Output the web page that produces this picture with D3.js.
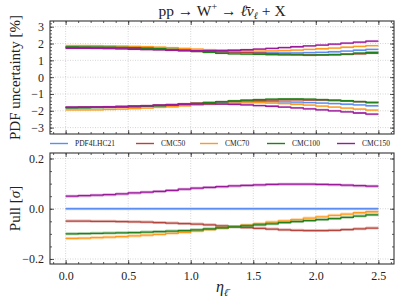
<!DOCTYPE html>
<html>
<head>
<meta charset="utf-8">
<script src="https://cdn.jsdelivr.net/npm/d3@7/dist/d3.min.js"></script>
<style>
  body { margin: 0; background: #fff; }
  text { font-family: "Liberation Serif", "DejaVu Serif", serif; fill: #222; }
</style>
</head>
<body>
<svg id="chart" width="399" height="299"></svg>
<script>
// bin edges in eta (25 bins)
const etaEdges = [0.0,0.1,0.2,0.3,0.4,0.5,0.6,0.7,0.8,0.9,1.0,1.1,1.2,1.3,1.4,1.5,1.6,1.7,1.8,1.9,2.0,2.1,2.2,2.3,2.4,2.5];

const seriesNames = ["PDF4LHC21", "CMC50", "CMC70", "CMC100", "CMC150"];
const seriesColors = ["#5c8ef2", "#b5453c", "#ff9a1f", "#22801c", "#9a1a9a"];

// PDF uncertainty [%], upper side
const upPDF4LHC21 = [1.78,1.78,1.77,1.76,1.75,1.73,1.71,1.68,1.64,1.60,1.56,1.53,1.51,1.49,1.47,1.46,1.45,1.45,1.45,1.46,1.48,1.51,1.55,1.60,1.65];
const upCMC50     = [1.77,1.77,1.76,1.75,1.74,1.72,1.70,1.67,1.63,1.58,1.53,1.51,1.50,1.49,1.47,1.43,1.40,1.37,1.35,1.33,1.33,1.34,1.36,1.39,1.42];
const upCMC70     = [1.88,1.88,1.87,1.86,1.85,1.83,1.81,1.78,1.75,1.71,1.67,1.63,1.60,1.57,1.55,1.55,1.56,1.58,1.61,1.65,1.69,1.73,1.78,1.83,1.87];
const upCMC100    = [1.80,1.79,1.79,1.78,1.77,1.75,1.72,1.69,1.65,1.60,1.53,1.47,1.42,1.39,1.37,1.36,1.34,1.33,1.32,1.31,1.32,1.34,1.37,1.43,1.48];
const upCMC150    = [1.72,1.72,1.71,1.70,1.68,1.66,1.64,1.62,1.60,1.58,1.57,1.57,1.58,1.60,1.63,1.67,1.71,1.76,1.81,1.86,1.91,1.96,2.02,2.08,2.14];

// PDF uncertainty [%], lower side
const dnPDF4LHC21 = [-1.80,-1.79,-1.78,-1.77,-1.76,-1.74,-1.71,-1.68,-1.64,-1.60,-1.56,-1.53,-1.50,-1.48,-1.47,-1.46,-1.46,-1.47,-1.49,-1.51,-1.54,-1.57,-1.61,-1.65,-1.70];
const dnCMC50     = [-1.80,-1.79,-1.78,-1.77,-1.75,-1.73,-1.70,-1.67,-1.63,-1.58,-1.54,-1.50,-1.46,-1.43,-1.40,-1.38,-1.36,-1.35,-1.35,-1.36,-1.37,-1.39,-1.42,-1.46,-1.50];
const dnCMC70     = [-1.95,-1.95,-1.94,-1.92,-1.90,-1.87,-1.84,-1.80,-1.76,-1.71,-1.66,-1.62,-1.58,-1.55,-1.53,-1.52,-1.54,-1.57,-1.61,-1.66,-1.72,-1.78,-1.84,-1.90,-1.96];
const dnCMC100    = [-1.83,-1.82,-1.81,-1.80,-1.78,-1.76,-1.73,-1.70,-1.66,-1.62,-1.57,-1.52,-1.46,-1.41,-1.36,-1.33,-1.31,-1.30,-1.30,-1.31,-1.33,-1.36,-1.40,-1.45,-1.51];
const dnCMC150    = [-1.79,-1.78,-1.77,-1.76,-1.74,-1.72,-1.70,-1.67,-1.64,-1.62,-1.60,-1.59,-1.60,-1.62,-1.65,-1.69,-1.73,-1.78,-1.83,-1.88,-1.94,-2.00,-2.06,-2.13,-2.20];

// pull [sigma]
const pullPDF4LHC21 = [0,0,0,0,0,0,0,0,0,0,0,0,0,0,0,0,0,0,0,0,0,0,0,0,0];
const pullCMC50     = [-0.049,-0.049,-0.050,-0.050,-0.051,-0.052,-0.053,-0.055,-0.057,-0.059,-0.061,-0.064,-0.068,-0.072,-0.075,-0.078,-0.081,-0.084,-0.086,-0.087,-0.087,-0.086,-0.083,-0.080,-0.077];
const pullCMC70     = [-0.118,-0.117,-0.115,-0.113,-0.111,-0.108,-0.105,-0.102,-0.098,-0.094,-0.089,-0.083,-0.077,-0.071,-0.065,-0.059,-0.053,-0.048,-0.043,-0.037,-0.032,-0.026,-0.021,-0.016,-0.012];
const pullCMC100    = [-0.100,-0.099,-0.098,-0.097,-0.096,-0.095,-0.093,-0.091,-0.089,-0.087,-0.084,-0.080,-0.076,-0.072,-0.068,-0.064,-0.060,-0.055,-0.051,-0.047,-0.043,-0.039,-0.034,-0.029,-0.024];
const pullCMC150    = [0.050,0.052,0.054,0.056,0.059,0.063,0.066,0.069,0.073,0.078,0.082,0.085,0.088,0.091,0.093,0.095,0.097,0.098,0.098,0.098,0.097,0.096,0.094,0.092,0.090];

const xTicks = [0.0, 0.5, 1.0, 1.5, 2.0, 2.5];
const yTicksTop = [-3, -2, -1, 0, 1, 2, 3];
const yTicksBot = [-0.2, 0.0, 0.2];

const upper = [upPDF4LHC21, upCMC50, upCMC70, upCMC100, upCMC150];
const lower = [dnPDF4LHC21, dnCMC50, dnCMC70, dnCMC100, dnCMC150];
const pulls = [pullPDF4LHC21, pullCMC50, pullCMC70, pullCMC100, pullCMC150];

const svg = d3.select("#chart");
const left = 50, right = 394;

const x = d3.scaleLinear().domain([-0.125, 2.625]).range([left, right]);
const yTop = d3.scaleLinear().domain([-3.38, 3.34]).range([134, 21]);
const yBot = d3.scaleLinear().domain([-0.22, 0.222]).range([264, 153]);

// 階段状のデータ点を作る
function stepPoints(vals) {
    return etaEdges.map((e, i) => [e, vals[Math.min(i, vals.length - 1)]]);
}

function drawPanel(y, yTicks, yMinorStep, yFmt, showX, seriesList, bandW) {
    const [y0, y1] = y.range();
    const g = svg.append("g");

    // grid
    g.selectAll(".gx").data(xTicks).join("line")
        .attr("x1", d => x(d)).attr("x2", d => x(d))
        .attr("y1", y1).attr("y2", y0)
        .attr("stroke", "#b8b8b8").attr("stroke-width", 0.6)
        .attr("stroke-dasharray", "1,1.5");
    g.selectAll(".gy").data(yTicks).join("line")
        .attr("x1", left).attr("x2", right)
        .attr("y1", d => y(d)).attr("y2", d => y(d))
        .attr("stroke", "#b8b8b8").attr("stroke-width", 0.6)
        .attr("stroke-dasharray", "1,1.5");

    const line = d3.line().x(d => x(d[0])).y(d => y(d[1])).curve(d3.curveStepAfter);
    const area = d3.area().x(d => x(d[0]))
        .y0(d => y(d[1] - bandW)).y1(d => y(d[1] + bandW))
        .curve(d3.curveStepAfter);

    seriesList.forEach(vals => {
        vals.forEach((v, i) => {
            const pts = stepPoints(v);
            g.append("path").attr("d", area(pts))
                .attr("fill", seriesColors[i]).attr("fill-opacity", 0.35);
            g.append("path").attr("d", line(pts))
                .attr("fill", "none").attr("stroke", seriesColors[i])
                .attr("stroke-width", 1.3);
        });
    });

    // minor ticks
    const [dmin, dmax] = y.domain();
    const yMinor = d3.range(Math.ceil(dmin / yMinorStep) * yMinorStep, dmax, yMinorStep);
    const xMinor = d3.range(-0.1, 2.65, 0.1);

    const tickAxis = (axis, tr, values, size) => g.append("g")
        .attr("transform", tr)
        .call(axis.tickValues(values).tickSize(size).tickFormat(""))
        .call(a => a.select(".domain").remove())
        .call(a => a.selectAll("line").attr("stroke", "#333").attr("stroke-width", 0.8));

    tickAxis(d3.axisLeft(y), `translate(${left},0)`, yMinor, -2);
    tickAxis(d3.axisRight(y), `translate(${right},0)`, yMinor, -2);
    tickAxis(d3.axisTop(x), `translate(0,${y1})`, xMinor, -2);
    tickAxis(d3.axisBottom(x), `translate(0,${y0})`, xMinor, -2);
    tickAxis(d3.axisRight(y), `translate(${right},0)`, yTicks, -4);
    tickAxis(d3.axisTop(x), `translate(0,${y1})`, xTicks, -4);

    // left axis with labels
    g.append("g").attr("transform", `translate(${left},0)`)
        .call(d3.axisLeft(y).tickValues(yTicks).tickSize(-4).tickPadding(6).tickFormat(yFmt))
        .call(a => a.select(".domain").remove())
        .call(a => a.selectAll("line").attr("stroke", "#333").attr("stroke-width", 0.8))
        .call(a => a.selectAll("text").attr("font-size", 12).attr("font-family", "Liberation Serif"));

    g.append("g").attr("transform", `translate(0,${y0})`)
        .call(d3.axisBottom(x).tickValues(xTicks).tickSize(-4).tickPadding(7)
            .tickFormat(showX ? d3.format(".1f") : ""))
        .call(a => a.select(".domain").remove())
        .call(a => a.selectAll("line").attr("stroke", "#333").attr("stroke-width", 0.8))
        .call(a => a.selectAll("text").attr("font-size", 12).attr("font-family", "Liberation Serif"));

    // frame
    g.append("rect").attr("x", left).attr("y", y1)
        .attr("width", right - left).attr("height", y0 - y1)
        .attr("fill", "none").attr("stroke", "#333").attr("stroke-width", 1.1);
}

drawPanel(yTop, yTicksTop, 0.2, d3.format("d"), false, [upper, lower], 0.06);
drawPanel(yBot, yTicksBot, 0.05, d3.format(".1f"), true, [pulls], 0.006);

// title
const title = svg.append("text").attr("x", 222).attr("y", 16)
    .attr("text-anchor", "middle").attr("font-size", 15.5);
title.append("tspan").text("pp → W");
title.append("tspan").attr("font-size", 10).attr("dy", -6).text("+");
title.append("tspan").attr("dy", 6).text(" → ");
title.append("tspan").attr("font-style", "italic").text("ℓ\u0304ν");
title.append("tspan").attr("font-style", "italic").attr("font-size", 10).attr("dy", 3).text("ℓ");
title.append("tspan").attr("dy", -3).text(" + X");

// y labels
svg.append("text").attr("transform", "translate(20,77.5) rotate(-90)")
    .attr("text-anchor", "middle").attr("font-size", 15).text("PDF uncertainty [%]");
const pl = svg.append("text").attr("transform", "translate(20,208.5) rotate(-90)")
    .attr("text-anchor", "middle").attr("font-size", 15);
pl.append("tspan").text("Pull [");
pl.append("tspan").attr("font-style", "italic").text("σ");
pl.append("tspan").text("]");

// x label
const xl = svg.append("text").attr("x", 222).attr("y", 292)
    .attr("text-anchor", "middle").attr("font-size", 16).attr("font-style", "italic");
xl.append("tspan").text("η");
xl.append("tspan").attr("font-size", 10).attr("dy", 4).text("ℓ\u0304");

// legend
const legendX = [50, 136, 200, 267, 337];
const leg = svg.append("g");
seriesNames.forEach((name, i) => {
    leg.append("line").attr("x1", legendX[i]).attr("x2", legendX[i] + 18)
        .attr("y1", 143.5).attr("y2", 143.5)
        .attr("stroke", seriesColors[i]).attr("stroke-width", 1.4);
    leg.append("text").attr("x", legendX[i] + 25).attr("y", 146.3)
        .attr("font-size", 7.5).text(name);
});
</script>
</body>
</html>
